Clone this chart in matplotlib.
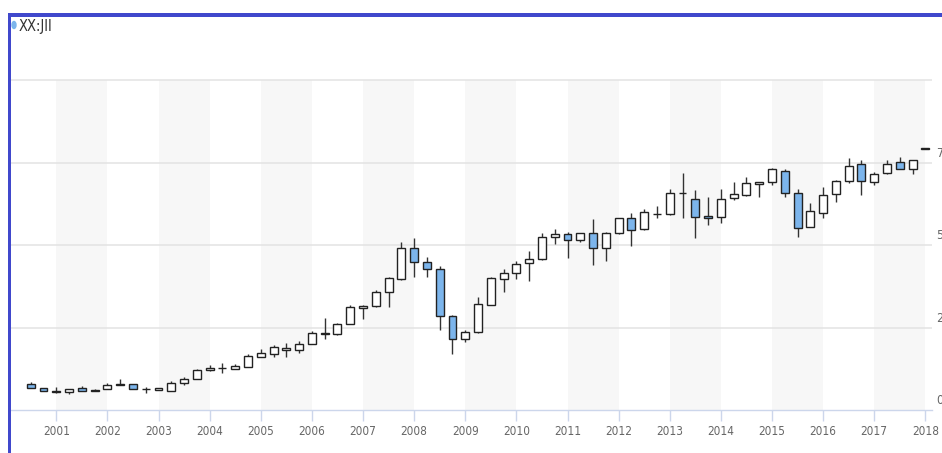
import numpy as np
import pandas as pd
import matplotlib
matplotlib.use("Agg")
import matplotlib.pyplot as plt
from matplotlib.patches import Ellipse, Rectangle

# quarterly candles, 2000Q3 .. 2018Q1
periods = pd.period_range("2000Q3", "2018Q1", freq="Q")

opens = [7.8, 6.6, 5.7, 5.5, 6.7, 6.2, 6.3, 7.6, 7.9, 6.25, 6.2, 5.9, 8.1, 9.5,
         12.0, 12.6, 12.5, 13.1, 16.2, 17.0, 18.3, 18.2, 19.9, 23.1, 23.0, 26.1,
         31.0, 31.5, 35.8, 39.7, 49.0, 44.8, 42.7, 28.6, 21.5, 23.5, 31.8, 39.8,
         41.4, 44.4, 45.7, 52.3, 53.2, 51.5, 53.5, 49.0, 53.5, 58.1, 54.8, 59.3,
         59.3, 65.7, 63.9, 58.7, 58.6, 64.3, 65.2, 68.5, 69.0, 72.4, 65.7, 55.6,
         59.8, 65.4, 69.4, 74.7, 69.0, 71.9, 75.1, 73.0, 79.1]
highs = [8.4, 6.7, 7.1, 6.5, 7.3, 6.3, 8.1, 9.3, 7.9, 7.1, 6.7, 8.9, 10.1, 12.3,
         13.5, 14.1, 13.9, 17.0, 18.4, 19.7, 20.4, 20.9, 23.8, 28.0, 26.3, 31.7,
         31.8, 36.3, 40.4, 50.8, 52.0, 46.3, 43.7, 28.8, 24.2, 34.1, 40.2, 42.8,
         45.2, 48.3, 53.7, 54.9, 53.9, 53.6, 57.9, 53.8, 58.3, 59.6, 60.8, 61.8,
         67.1, 71.7, 66.7, 64.6, 66.9, 69.0, 70.7, 69.2, 73.4, 72.9, 66.9, 62.8,
         67.5, 69.6, 76.3, 75.8, 72.2, 75.8, 76.6, 75.9, 79.5]
lows = [6.6, 5.7, 5.3, 4.8, 5.7, 5.7, 6.3, 7.5, 6.5, 5.1, 6.1, 5.8, 7.6, 9.5,
        11.9, 11.1, 12.5, 13.1, 16.2, 16.0, 16.0, 17.2, 19.9, 21.4, 22.6, 26.0,
        27.7, 31.3, 31.3, 39.5, 40.2, 40.2, 24.2, 17.0, 20.5, 23.3, 31.8, 35.9,
        39.7, 39.2, 45.5, 50.2, 46.0, 51.0, 43.9, 45.2, 53.3, 49.7, 54.5, 58.1,
        59.0, 58.1, 52.2, 56.1, 56.8, 63.6, 65.0, 64.6, 68.2, 64.6, 52.5, 55.4,
        58.1, 63.1, 68.7, 65.2, 68.2, 71.6, 73.0, 71.4, 79.1]
closes = [6.6, 5.8, 5.4, 6.5, 5.7, 5.8, 7.6, 8.0, 6.5, 6.35, 6.6, 8.3, 9.5, 12.1,
          12.6, 12.7, 13.4, 16.4, 17.2, 19.0, 18.9, 20.0, 23.2, 23.3, 26.1, 31.1,
          31.6, 35.8, 39.9, 49.0, 44.8, 42.7, 28.6, 21.5, 23.5, 32.0, 39.9, 41.6,
          44.1, 45.8, 52.3, 53.2, 51.5, 53.5, 49.0, 53.7, 58.1, 54.5, 60.1, 59.5,
          65.8, 65.9, 58.4, 58.1, 63.9, 65.4, 68.7, 69.0, 72.9, 65.7, 55.2, 60.4,
          65.2, 69.4, 74.0, 69.4, 71.5, 74.7, 73.0, 75.7, 79.5]

year_ticks = list(range(2001, 2019))
y_labels = [0, 25, 50, 75]
grid_levels = [25, 50, 75, 100]

W, H = 942, 453
fig = plt.figure(figsize=(W / 100, H / 100), dpi=100)
fig.patch.set_facecolor("white")

# plot area in pixels: x 11..932, y 17..410
ax = fig.add_axes([11 / W, (H - 410) / H, (932 - 11) / W, (410 - 17) / H])
ax.set_facecolor("white")

x = np.array([p.year + (p.quarter - 1) * 0.25 for p in periods])
o = np.array(opens)
c = np.array(closes)
hi = np.array(highs)
lo = np.array(lows)

ax.set_xlim(2000.114, 2018.13)
ax.set_ylim(0, 119.1)

# alternating bands
for yr in range(2001, 2018, 2):
    ax.fill_between([yr, yr + 1], 0, 100, color="#f7f7f7", lw=0, zorder=0)

for g in grid_levels:
    ax.axhline(g, color="#e3e3e3", lw=1.1, zorder=1)

# candles
up = c >= o
ax.vlines(x, lo, hi, color="#333333", lw=1, zorder=2)
body_lo = np.minimum(o, c)
body_h = np.abs(c - o)
ax.bar(x[up], body_h[up], bottom=body_lo[up], width=0.155, color="white",
       edgecolor="#222222", lw=1, zorder=3)
ax.bar(x[~up], body_h[~up], bottom=body_lo[~up], width=0.155, color="#7cb5ec",
       edgecolor="#222222", lw=1, zorder=3)

for s in ["top", "right", "left"]:
    ax.spines[s].set_visible(False)
ax.spines["bottom"].set_color("#ccd6eb")
ax.spines["bottom"].set_linewidth(1)

ax.set_xticks(year_ticks)
ax.set_xticklabels([str(y) for y in year_ticks], fontsize=8.5, color="#666666",
                   family="DejaVu Sans", fontstretch="condensed")
ax.tick_params(axis="x", length=8, width=1, color="#ccd6eb", pad=3)
ax.set_yticks([])

for v in y_labels:
    ax.annotate(str(v), xy=(1, v), xycoords=("axes fraction", "data"),
                xytext=(3, 6.5), textcoords="offset points", ha="left",
                va="center", fontsize=9, color="#666666", family="DejaVu Sans",
                fontstretch="condensed", annotation_clip=False)

# legend dot + series name
fig.add_artist(Ellipse((14 / W, 1 - 25 / H), 4 / W, 7 / H,
                       transform=fig.transFigure, color="#7cb5ec"))
fig.text(19 / W, 1 - 26 / H, "XX:JII", fontsize=10.5, color="#333333",
         va="center", ha="left", family="DejaVu Sans", fontstretch="condensed")

# blue frame (top and left)
fig.add_artist(Rectangle((8 / W, 1 - 17 / H), 1, 4 / H,
                         transform=fig.transFigure, color="#4048cc", lw=0))
fig.add_artist(Rectangle((8 / W, 0), 3 / W, 1 - 13 / H,
                         transform=fig.transFigure, color="#4048cc", lw=0))

fig.savefig("out.png", dpi=100)
